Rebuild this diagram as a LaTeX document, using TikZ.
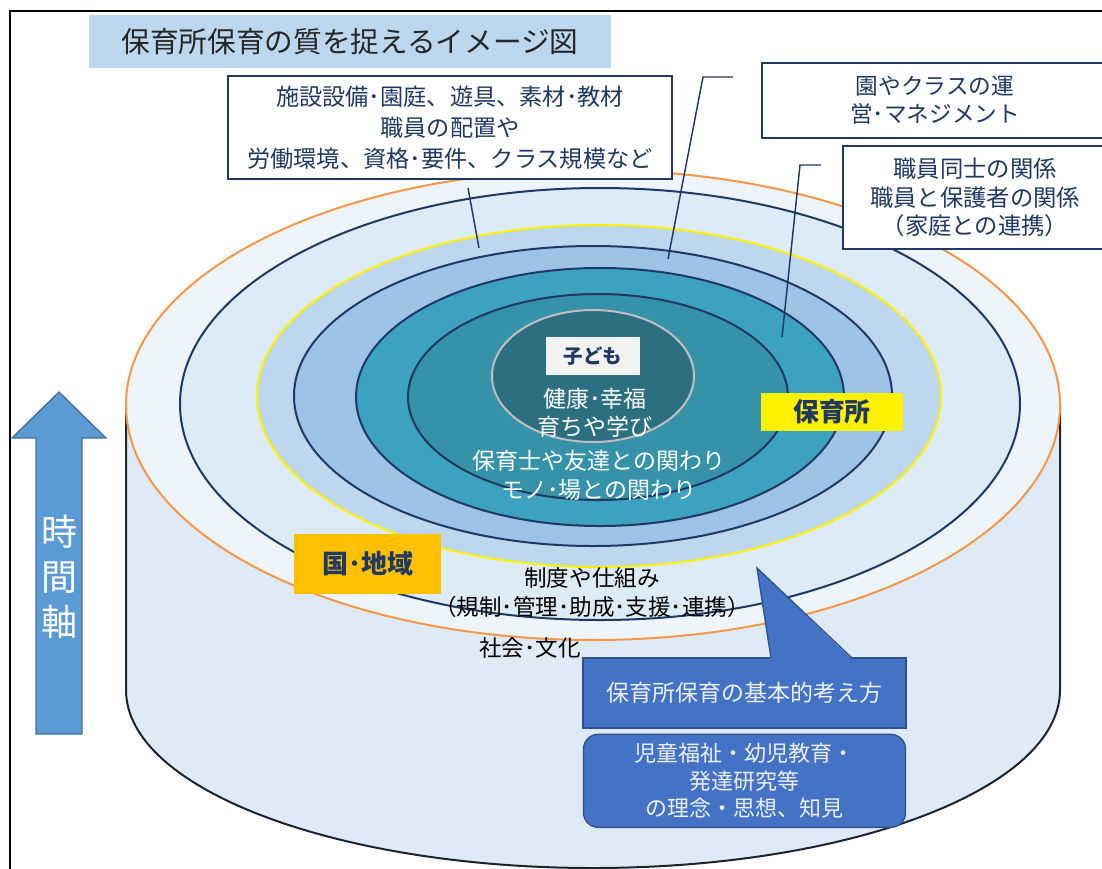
\documentclass[tikz,border=0pt]{standalone}
\usepackage{fontspec}
\setmainfont{Noto Sans CJK JP}
\usetikzlibrary{positioning, calc}

\definecolor{navy}{HTML}{1F3864}
\definecolor{titlefill}{HTML}{BDD7EE}
\definecolor{titletext}{HTML}{262626}
\definecolor{cylfill}{HTML}{DEEAF6}
\definecolor{cylline}{HTML}{1C2430}
\definecolor{orangeline}{HTML}{F79646}
\definecolor{ringA}{HTML}{EDF5FA}
\definecolor{ringB}{HTML}{DDEBF7}
\definecolor{ringC}{HTML}{BDD7EE}
\definecolor{ringD}{HTML}{9DC3E6}
\definecolor{ringE}{HTML}{3CA2BF}
\definecolor{ringF}{HTML}{3592A9}
\definecolor{childfill}{HTML}{2B6F81}
\definecolor{childline}{HTML}{BFBFBF}
\definecolor{kunifill}{HTML}{FFC000}
\definecolor{calloutblue}{HTML}{4472C4}
\definecolor{calloutedge}{HTML}{2F528F}
\definecolor{callouttext}{HTML}{EBF0F9}
\definecolor{arrowfill}{HTML}{5B9BD5}
\definecolor{arrowedge}{HTML}{41719C}

\begin{document}
\begin{tikzpicture}[x=0.75pt, y=-0.75pt,
    navybox/.style={draw=navy, line width=1.4pt, fill=white, rectangle, text=navy, align=center, inner sep=0pt},
    tagbox/.style={rectangle, inner sep=0pt, text=navy},
    ring/.style={line width=1.5pt},
    leader/.style={draw=navy, line width=1.1pt},
    whitetext/.style={text=white, align=center, inner sep=0pt, font=\fontsize{17.25}{21}\selectfont},
    ringtext/.style={text=black, align=center, inner sep=0pt, font=\fontsize{16.9}{21.75}\selectfont},
    bluebox/.style={fill=calloutblue, draw=calloutedge, line width=1pt, text=callouttext, align=center, inner sep=0pt}]
        \useasboundingbox (0,0) rectangle (1102,868);
        \draw[line width=1.5pt] (10,11) rectangle (1130,900);

        \node[fill=titlefill, minimum width=391.5pt, minimum height=39.75pt, inner sep=0pt, text=titletext, font=\fontsize{21.5}{26}\selectfont] (title) at (350,41.5) {保育所保育の質を捉えるイメージ図};

        \fill[cylfill] (126,405) -- (126,690) arc[start angle=180, end angle=0, x radius=467, y radius=178] -- (1060,405) -- cycle;
        \draw[cylline, line width=1.5pt] (126,405) -- (126,690) arc[start angle=180, end angle=0, x radius=467, y radius=178] -- (1060,405);

        \filldraw[ring, fill=ringA, draw=orangeline] (593,405) ellipse [x radius=467, y radius=235];
        \filldraw[ring, fill=ringB, draw=navy] (600,404) ellipse [x radius=420, y radius=216];
        \filldraw[ring, fill=ringC, draw=yellow] (599,396) ellipse [x radius=342, y radius=171];
        \filldraw[ring, fill=ringD, draw=navy] (593,396) ellipse [x radius=299, y radius=150];
        \filldraw[ring, fill=ringE, draw=navy] (600,397) ellipse [x radius=244, y radius=129];
        \filldraw[ring, fill=ringF, draw=navy] (598,397) ellipse [x radius=190, y radius=103];
        \filldraw[ring, fill=childfill, draw=childline] (593,376) ellipse [x radius=101, y radius=66];

        \node[navybox, minimum width=333pt, minimum height=77.25pt, font=\fontsize{17.4}{23.25}\selectfont] (setsubi) at (450,127.5) {施設設備･園庭、遊具、素材･教材\\職員の配置や\\労働環境、資格･要件、クラス規模など};
        \node[navybox, minimum width=259.5pt, minimum height=56.25pt, font=\fontsize{17}{21}\selectfont] (unei) at (935,100.5) {園やクラスの運\\営･マネジメント};
        \node[navybox, minimum width=198pt, minimum height=77.25pt, font=\fontsize{17.5}{21.4}\selectfont] (kankei) at (975,197.5) {職員同士の関係\\職員と保護者の関係\\（家庭との連携）};

        \coordinate (l1a) at (468,188);
        \coordinate (l1b) at (479,248);
        \coordinate (l2a) at (733,77);
        \coordinate (l2b) at (703,77);
        \coordinate (l2c) at (668,259);
        \coordinate (l3a) at (821,165);
        \coordinate (l3b) at (800,165);
        \coordinate (l3c) at (782,337);
        \draw[leader] (l1a) -- (l1b);
        \draw[leader] (l2a) -- (l2b) -- (l2c);
        \draw[leader] (l3a) -- (l3b) -- (l3c);

        \node[tagbox, fill=black!5, minimum width=70.5pt, minimum height=28.5pt, font=\bfseries\fontsize{14.6}{17}\selectfont] (kodomo) at (593,356) {子ども};
        \node[whitetext] (kenko) at (595,413) {健康･幸福\\育ちや学び};
        \node[whitetext, font=\fontsize{17.25}{21.75}\selectfont] (kakawari) at (599,475.5) {保育士や友達との関わり\\モノ･場との関わり};

        \node[tagbox, fill=yellow, minimum width=106.5pt, minimum height=28.5pt, font=\bfseries\fontsize{19.4}{23}\selectfont] (hoikusho) at (832,412) {保育所};
        \node[tagbox, fill=kunifill, minimum width=110.25pt, minimum height=45pt, font=\bfseries\fontsize{19.5}{23}\selectfont] (kuni) at (367.5,564) {国･地域};

        \node[ringtext] (seido) at (592,592.5) {制度や仕組み\\（規制･管理･助成･支援･連携）};
        \node[ringtext] (shakai) at (530,648) {社会･文化};

        \node[bluebox, minimum width=242.25pt, minimum height=52.5pt, font=\fontsize{17.25}{21}\selectfont] (kihon) at (744.5,693) {保育所保育の基本的考え方};
        \node[bluebox, rounded corners=11pt, minimum width=241.5pt, minimum height=69.75pt, below=3.75pt of kihon, font=\fontsize{16.5}{20.6}\selectfont] (rinen) {児童福祉・幼児教育・\\発達研究等\\の理念・思想、知見};
        \coordinate (tip) at (757,568);
        \fill[calloutblue] (771,659.5) -- (tip) -- (852,659.5) -- cycle;
        \draw[calloutedge, line width=1pt] (771,658) -- (tip) -- (852,658);

        \filldraw[fill=arrowfill, draw=arrowedge, line width=1pt] (59,392) -- (106,438) -- (82,438) -- (82,734) -- (36,734) -- (36,438) -- (12,438) -- cycle;
        \node[text=white, align=center, inner sep=0pt, font=\fontsize{27}{33.75}\selectfont] (jikan) at (59,577) {時\\間\\軸};

    \end{tikzpicture}
\end{document}
